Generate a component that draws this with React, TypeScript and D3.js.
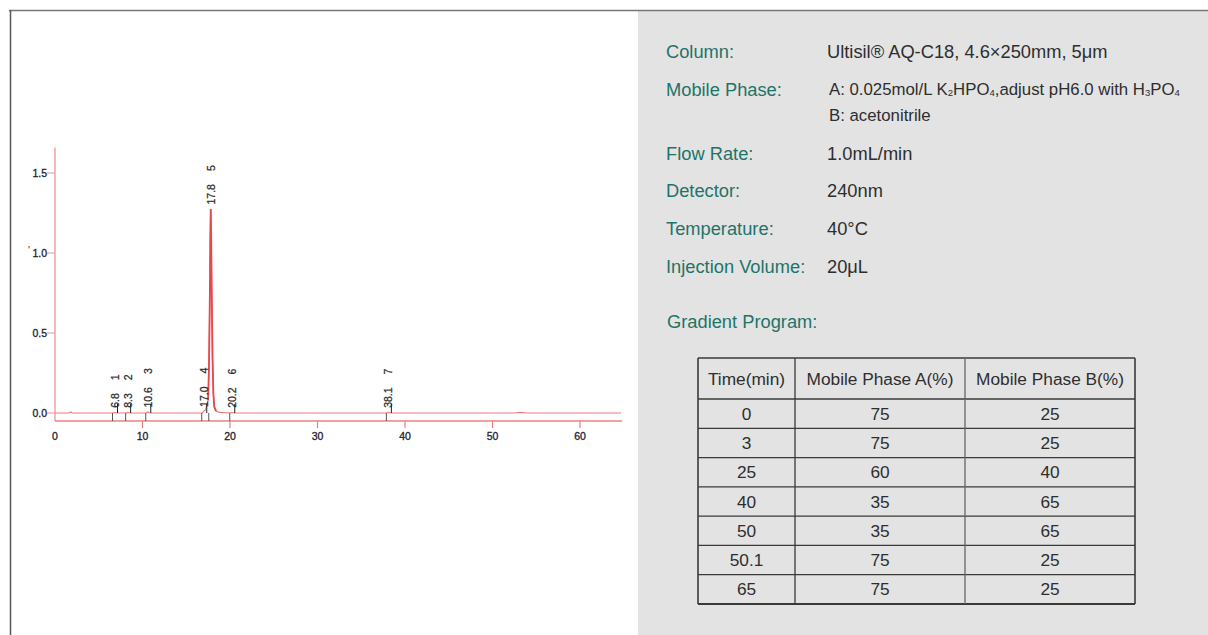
import React, { useRef, useEffect } from "react";
import * as d3 from "d3";

// chromatogram trace (min, AU)
const traceTime = [0, 1.6, 1.8, 2.0, 6.6, 6.8, 7.0, 8.1, 8.3, 8.5, 10.4, 10.6, 10.8, 16.8, 17.0, 17.2, 17.5, 17.6, 17.7, 17.75, 17.8, 17.85, 17.9, 18.0, 18.1, 18.2, 18.4, 18.8, 20.0, 20.2, 20.4, 37.9, 38.1, 38.3, 52.5, 53.2, 54.0, 64.7];
const traceAbs = [0, 0, 0.006, 0, 0, 0.004, 0, 0, 0.004, 0, 0, 0.006, 0, 0, 0.01, 0.02, 0.08, 0.3, 0.75, 1.1, 1.275, 1.1, 0.8, 0.35, 0.12, 0.04, 0.012, 0.004, 0, 0.004, 0, 0, 0.004, 0, 0, 0.004, 0, 0];

// integrated peaks
const peakNo = ["1", "2", "3", "4", "5", "6", "7"];
const peakTime = [6.8, 8.3, 10.6, 17.0, 17.8, 20.2, 38.1];
const peakLabel = ["6.8", "8.3", "10.6", "17.0", "17.8", "20.2", "38.1"];
const peakHeight = [0.004, 0.004, 0.006, 0.01, 1.275, 0.004, 0.004];

const xTicks = [0, 10, 20, 30, 40, 50, 60];
const yTicks = [0, 0.5, 1.0, 1.5];

// method conditions
const paramLabels = ["Column:", "Mobile Phase:", "Flow Rate:", "Detector:", "Temperature:", "Injection Volume:"];
const paramValues = ["Ultisil® AQ-C18, 4.6×250mm, 5μm", "", "1.0mL/min", "240nm", "40°C", "20μL"];
const phaseA: [string, boolean][] = [
  ["A: 0.025mol/L K", false], ["2", true], ["HPO", false], ["4", true],
  [",adjust pH6.0 with H", false], ["3", true], ["PO", false], ["4", true],
];
const phaseB = "B: acetonitrile";

// gradient program table
const gradTitle = "Gradient Program:";
const gradHeaders = ["Time(min)", "Mobile Phase A(%)", "Mobile Phase B(%)"];
const gradTime = ["0", "3", "25", "40", "50", "50.1", "65"];
const gradA = ["75", "75", "60", "35", "35", "75", "75"];
const gradB = ["25", "25", "40", "65", "65", "25", "25"];

const W = 1208;
const H = 635;

const App: React.FC = () => {
  const ref = useRef<SVGSVGElement | null>(null);

  useEffect(() => {
    const svg = d3.select(ref.current);
    svg.selectAll("*").remove();

    svg.append("rect").attr("width", W).attr("height", H).attr("fill", "#fff");

    // right grey panel
    svg.append("rect").attr("x", 638).attr("y", 10).attr("width", W - 638).attr("height", H - 10).attr("fill", "#e3e3e3");

    // frame
    svg.append("line").attr("x1", 9).attr("x2", W).attr("y1", 10.5).attr("y2", 10.5).attr("stroke", "#777").attr("stroke-width", 1.5);
    svg.append("line").attr("x1", 10.5).attr("x2", 10.5).attr("y1", 10).attr("y2", H).attr("stroke", "#555").attr("stroke-width", 1.5);

    // ---- chromatogram ----
    const x = d3.scaleLinear().domain([0, 60]).range([55, 580]);
    const y = d3.scaleLinear().domain([0, 1.5]).range([413, 173]);
    const axisFont = "'Liberation Sans', Arial, sans-serif";
    const axisY = y(-0.05);
    const ink = "#1e2030";

    const g = svg.append("g");

    // y axis
    g.append("line").attr("x1", x(0)).attr("x2", x(0)).attr("y1", y(1.66)).attr("y2", axisY)
      .attr("stroke", "#f2a2a2").attr("stroke-width", 1.5);
    yTicks.forEach((v) => {
      g.append("line").attr("x1", x(0) - 8).attr("x2", x(0)).attr("y1", y(v)).attr("y2", y(v))
        .attr("stroke", "#f2a2a2").attr("stroke-width", 1.2);
      g.append("text").attr("x", x(0) - 8).attr("y", y(v) + 3.8).attr("text-anchor", "end")
        .attr("font-family", axisFont).attr("font-size", 10.5).attr("fill", ink)
        .attr("stroke", ink).attr("stroke-width", 0.3).text(v.toFixed(1));
    });
    // stray mark left of 1.0
    g.append("text").attr("x", 28).attr("y", y(1.0) + 1).attr("font-family", axisFont)
      .attr("font-size", 10).attr("fill", ink).text("'");

    // x axis
    g.append("line").attr("x1", x(0)).attr("x2", x(64.8)).attr("y1", axisY).attr("y2", axisY)
      .attr("stroke", "#ec8080").attr("stroke-width", 1.5);
    xTicks.forEach((t) => {
      if (t > 0) {
        g.append("line").attr("x1", x(t)).attr("x2", x(t)).attr("y1", axisY).attr("y2", axisY + 7)
          .attr("stroke", "#ec8080").attr("stroke-width", 1.2);
      }
      g.append("text").attr("x", x(t)).attr("y", axisY + 19).attr("text-anchor", "middle")
        .attr("font-family", axisFont).attr("font-size", 10.5).attr("fill", ink)
        .attr("stroke", ink).attr("stroke-width", 0.3).text(String(t));
    });

    // trace
    const pts = traceTime.map((t, i) => [t, traceAbs[i]] as [number, number]);
    const line = d3.line<[number, number]>().x((d) => x(d[0])).y((d) => y(d[1]));
    g.append("path").datum(pts).attr("fill", "none").attr("stroke", "#f07c7c").attr("stroke-width", 1.2).attr("d", line);
    g.append("path").datum(pts.filter((d) => d[0] >= 17.5 && d[0] <= 18.4))
      .attr("fill", "none").attr("stroke", "#e8474d").attr("stroke-width", 1.8).attr("d", line);

    // peak markers and labels
    peakTime.forEach((t, i) => {
      const px = x(t);
      g.append("line").attr("x1", px - 2).attr("x2", px - 2).attr("y1", y(0)).attr("y2", axisY)
        .attr("stroke", "#555").attr("stroke-width", 1);
      if (i !== 4) {
        g.append("line").attr("x1", px + 3).attr("x2", px + 3).attr("y1", y(0)).attr("y2", y(0) - 9)
          .attr("stroke", "#222").attr("stroke-width", 1);
      }
      const lx = px + 4;
      const ly = y(peakHeight[i]) - 4.5;
      const txt = g.append("text").attr("transform", `translate(${lx},${ly}) rotate(-90)`)
        .attr("font-family", axisFont).attr("font-size", 10.5).attr("fill", "#2a2a2a")
        .attr("stroke", "#2a2a2a").attr("stroke-width", 0.25);
      txt.append("tspan").text(peakLabel[i]);
      txt.append("tspan").attr("dx", 13).text(peakNo[i]);
    });

    // ---- conditions panel ----
    const sans = "'Liberation Sans', Arial, sans-serif";
    const teal = "#1e7468";
    const dark = "#2e2e2e";
    const labelX = 666;
    const valueX = 827;
    const rowBase = [57.5, 95.5, 159.5, 196.5, 234.5, 272.5];

    paramLabels.forEach((lab, i) => {
      svg.append("text").attr("x", labelX).attr("y", rowBase[i]).attr("font-family", sans)
        .attr("font-size", 18.3).attr("fill", teal).text(lab);
      if (paramValues[i]) {
        svg.append("text").attr("x", valueX).attr("y", rowBase[i]).attr("font-family", sans)
          .attr("font-size", 18.3).attr("fill", dark).text(paramValues[i]);
      }
    });

    const aText = svg.append("text").attr("x", valueX + 2).attr("y", 95).attr("font-family", sans)
      .attr("font-size", 16.8).attr("fill", dark);
    let wasSub = false;
    phaseA.forEach(([s, sub]) => {
      const ts = aText.append("tspan").text(s);
      if (sub) ts.attr("font-size", 9.5);
      if (sub !== wasSub) ts.attr("dy", sub ? 1 : -1);
      wasSub = sub;
    });
    svg.append("text").attr("x", valueX + 2).attr("y", 121).attr("font-family", sans)
      .attr("font-size", 16.8).attr("fill", dark).text(phaseB);

    svg.append("text").attr("x", labelX + 1).attr("y", 327.5).attr("font-family", sans)
      .attr("font-size", 18.3).attr("fill", teal).text(gradTitle);

    // table
    const colEdges = [698, 795, 965, 1135];
    const top = 358;
    const headH = 41;
    const rowH = (604 - 399) / gradTime.length;
    const bottom = top + headH + rowH * gradTime.length;
    const tg = svg.append("g").attr("font-family", sans).attr("font-size", 17.3).attr("fill", dark)
      .attr("text-anchor", "middle");
    const mid = (c: number) => (colEdges[c] + colEdges[c + 1]) / 2;

    gradHeaders.forEach((h, c) => {
      tg.append("text").attr("x", mid(c)).attr("y", top + headH / 2 + 6).text(h);
    });
    gradTime.forEach((t, r) => {
      const cy = top + headH + rowH * r + rowH / 2 + 6;
      [t, gradA[r], gradB[r]].forEach((v, c) => {
        tg.append("text").attr("x", mid(c)).attr("y", cy).text(v);
      });
    });

    const lineCol = "#3a3a3a";
    for (let r = 0; r <= gradTime.length; r++) {
      const yy = top + headH + rowH * r;
      svg.append("line").attr("x1", colEdges[0]).attr("x2", colEdges[3]).attr("y1", yy).attr("y2", yy)
        .attr("stroke", lineCol).attr("stroke-width", r === gradTime.length ? 1.8 : 1.3);
    }
    svg.append("line").attr("x1", colEdges[0]).attr("x2", colEdges[3]).attr("y1", top).attr("y2", top)
      .attr("stroke", lineCol).attr("stroke-width", 1.5);
    colEdges.forEach((cx, c) => {
      svg.append("line").attr("x1", cx).attr("x2", cx).attr("y1", top).attr("y2", bottom)
        .attr("stroke", c === 2 ? "#666" : lineCol).attr("stroke-width", c === 0 || c === 3 ? 1.6 : 1.3);
    });
  }, []);

  return (
    <svg
      ref={ref}
      width={W}
      height={H}
      style={{ position: "absolute", left: 0, top: 0, display: "block" }}
    />
  );
};

export default App;
